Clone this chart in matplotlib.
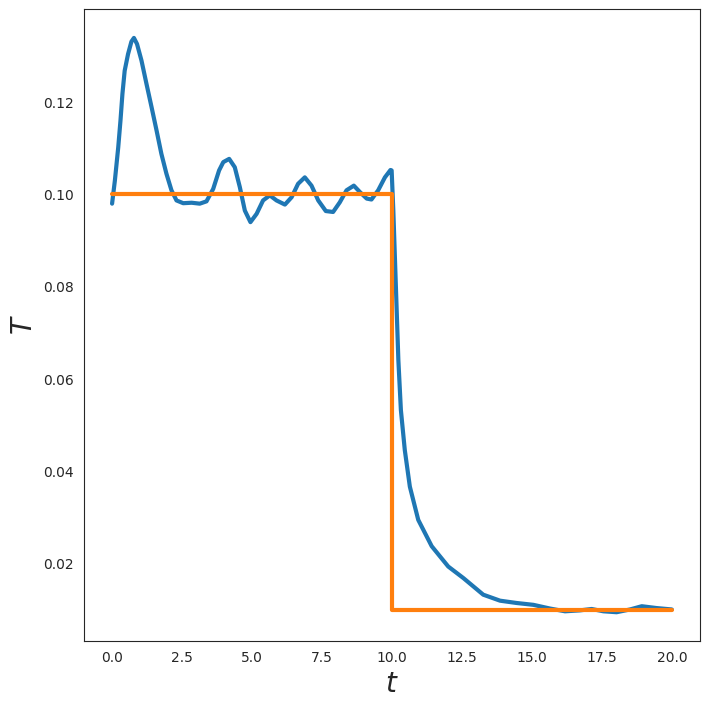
import matplotlib
matplotlib.use('Agg')
import matplotlib.pyplot as plt
import seaborn as sns
import numpy as np

sns.set_style('white')

# blue curve
t_sim = [0.01, 0.11, 0.23, 0.31, 0.38, 0.46, 0.58, 0.70, 0.79, 0.90, 1.06, 1.24,
         1.42, 1.60, 1.77, 1.95, 2.13, 2.31, 2.55, 2.85, 3.14, 3.38, 3.62, 3.83,
         3.98, 4.19, 4.39, 4.57, 4.75, 4.95, 5.17, 5.40, 5.64, 5.88, 6.18, 6.42,
         6.65, 6.89, 7.13, 7.37, 7.64, 7.90, 8.14, 8.38, 8.64, 8.86, 9.10, 9.27,
         9.51, 9.75, 9.95, 9.99, 10.05, 10.11, 10.17, 10.23, 10.32, 10.46, 10.64,
         10.94, 11.42, 12.01, 12.55, 13.26, 13.86, 14.45, 15.05, 15.64, 16.18,
         16.71, 17.13, 17.55, 18.02, 18.50, 18.92, 19.45, 19.99]
T_sim = [0.0980, 0.1030, 0.1102, 0.1160, 0.1218, 0.1268, 0.1304, 0.1331, 0.1339,
         0.1326, 0.1290, 0.1239, 0.1189, 0.1138, 0.1088, 0.1045, 0.1009, 0.0987,
         0.0981, 0.0982, 0.0980, 0.0985, 0.1012, 0.1052, 0.1070, 0.1077, 0.1059,
         0.1016, 0.0965, 0.0940, 0.0958, 0.0987, 0.0998, 0.0987, 0.0978, 0.0994,
         0.1023, 0.1037, 0.1019, 0.0987, 0.0964, 0.0962, 0.0983, 0.1009, 0.1019,
         0.1005, 0.0991, 0.0989, 0.1009, 0.1037, 0.1053, 0.1052, 0.0965, 0.0857,
         0.0749, 0.0641, 0.0533, 0.0446, 0.0367, 0.0295, 0.0238, 0.0194, 0.0169,
         0.0133, 0.0120, 0.0115, 0.0111, 0.0103, 0.0097, 0.0099, 0.0102, 0.0097,
         0.0095, 0.0101, 0.0108, 0.0104, 0.0101]

# orange step target
t_step = [0.0, 10.0, 10.0, 20.0]
T_step = [0.10, 0.10, 0.01, 0.01]

fig = plt.figure(figsize=(7.1, 7.09), dpi=100)
ax = fig.add_subplot(111)
fig.subplots_adjust(left=0.118, right=0.986, top=0.987, bottom=0.096)

ax.plot(t_sim, T_sim, color='#1f77b4', lw=3.0, solid_joinstyle='round')
ax.plot(t_step, T_step, color='#ff7f0e', lw=3.0)

ax.set_xticks(np.arange(0, 20.1, 2.5))
ax.set_yticks([0.02, 0.04, 0.06, 0.08, 0.10, 0.12])
ax.tick_params(labelsize=10, colors='.15')
ax.set_xlabel('$t$', fontsize=20)
ax.set_ylabel('$T$', fontsize=20)

plt.savefig('out.png', dpi=100)
